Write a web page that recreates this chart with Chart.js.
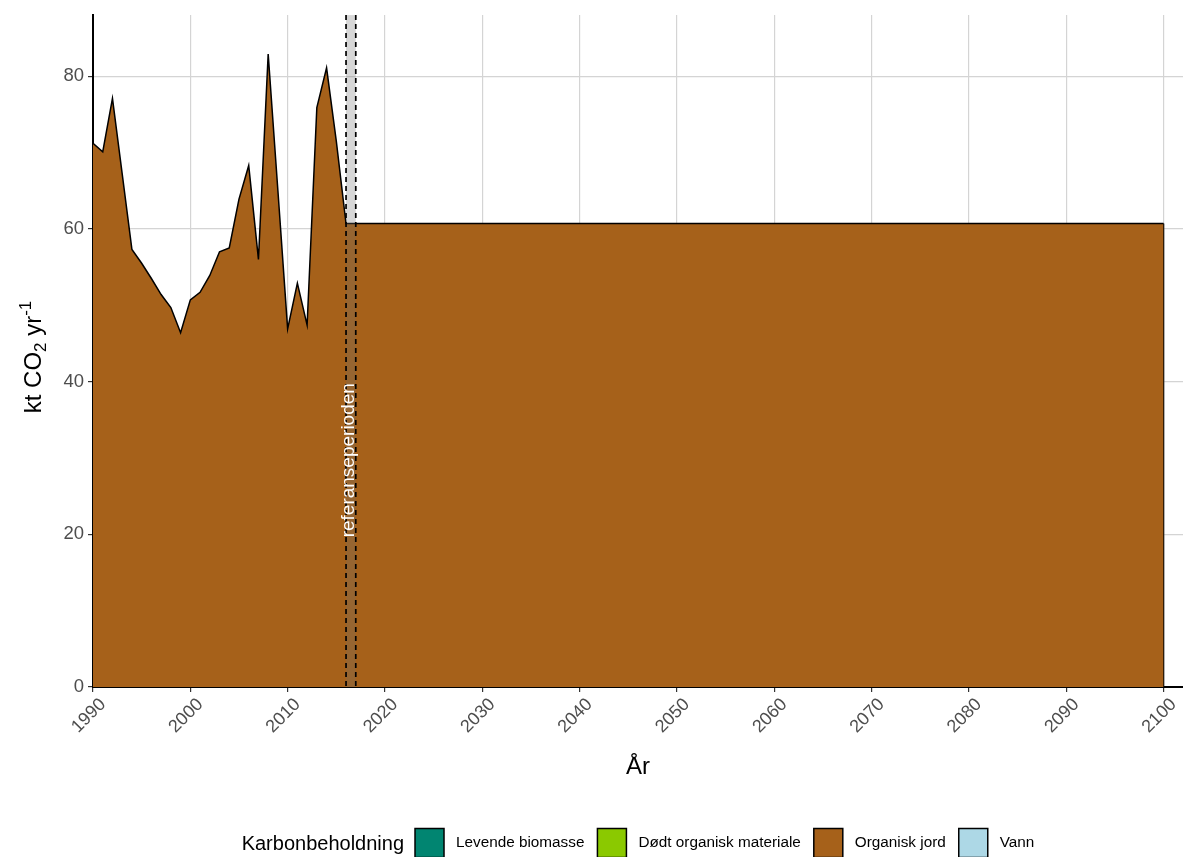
<!DOCTYPE html>
<html>
<head>
<meta charset="utf-8">
<script src="https://cdn.jsdelivr.net/npm/chart.js@4.4.1/dist/chart.umd.min.js"></script>
<style>
  body { margin: 0; background: #fff; }
  #wrap { width: 1183px; height: 857px; }
</style>
</head>
<body>
<div id="wrap"><canvas id="chart" width="1183" height="857"></canvas></div>
<script>
// historiske år og utslipp fra organisk jord (kt CO2 per år)
const years = [1990, 1991, 1992, 1993, 1994, 1995, 1996, 1997, 1998, 1999,
               2000, 2001, 2002, 2003, 2004, 2005, 2006, 2007, 2008, 2009,
               2010, 2011, 2012, 2013, 2014, 2015, 2016];
const organiskJord = [71.2, 70.1, 77.1, 67.2, 57.3, 55.5, 53.5, 51.4, 49.7, 46.4,
                      50.7, 51.7, 53.9, 57.0, 57.5, 63.9, 68.3, 56.0, 82.9, 65.0,
                      46.9, 52.9, 47.4, 75.9, 81.1, 71.5, 60.7];
// framskriving (konstant nivå)
const projYears = [2017, 2100];
const projValues = [60.7, 60.7];

const xTicks = [1990, 2000, 2010, 2020, 2030, 2040, 2050, 2060, 2070, 2080, 2090, 2100];
const yTicks = [0, 20, 40, 60, 80];

const refStart = 2016;
const refEnd = 2017;
const refLabel = 'referanseperioden';

const legendTitle = 'Karbonbeholdning';
const legendNames = ['Levende biomasse', 'Dødt organisk materiale', 'Organisk jord', 'Vann'];
const legendColors = ['#018571', '#8BC900', '#A6611A', '#ADD8E6'];

const allYears = years.concat(projYears);
const allValues = organiskJord.concat(projValues);
const lastYear = allYears[allYears.length - 1];
const lastValue = allValues[allValues.length - 1];

const FONT = '"Liberation Sans", Arial, sans-serif';

const refPlugin = {
    id: 'referanse',
    afterDatasetsDraw(chart) {
        const { ctx, chartArea, scales } = chart;
        const x1 = scales.x.getPixelForValue(refStart);
        const x2 = scales.x.getPixelForValue(refEnd);
        ctx.save();
        ctx.fillStyle = 'rgba(110,110,110,0.28)';
        ctx.fillRect(x1, chartArea.top, x2 - x1, chartArea.bottom - chartArea.top);
        ctx.strokeStyle = '#000';
        ctx.lineWidth = 1.7;
        ctx.setLineDash([5, 4]);
        [x1, x2].forEach(x => {
            ctx.beginPath();
            ctx.moveTo(x, chartArea.top);
            ctx.lineTo(x, chartArea.bottom);
            ctx.stroke();
        });
        ctx.setLineDash([]);
        // tekst for referanseperioden
        const tx = scales.x.getPixelForValue(refStart + 0.25);
        const ty = scales.y.getPixelForValue(29.7);
        ctx.translate(tx, ty);
        ctx.rotate(-Math.PI / 2);
        ctx.fillStyle = '#fff';
        ctx.font = '19px ' + FONT;
        ctx.textAlign = 'center';
        ctx.textBaseline = 'middle';
        ctx.fillText(refLabel, 0, 0);
        ctx.restore();
    }
};

// y-aksetittel med senket 2 og hevet -1
const yTitlePlugin = {
    id: 'yTittel',
    afterDraw(chart) {
        const { ctx } = chart;
        const parts = [
            { t: 'kt CO', size: 24, dy: 0 },
            { t: '2', size: 17, dy: 5 },
            { t: ' yr', size: 24, dy: 0 },
            { t: '-1', size: 17, dy: -10 }
        ];
        ctx.save();
        let total = 0;
        parts.forEach(p => { ctx.font = p.size + 'px ' + FONT; p.w = ctx.measureText(p.t).width; total += p.w; });
        ctx.translate(41, 357);
        ctx.rotate(-Math.PI / 2);
        ctx.fillStyle = '#000';
        ctx.textBaseline = 'alphabetic';
        ctx.textAlign = 'left';
        let x = -total / 2;
        parts.forEach(p => {
            ctx.font = p.size + 'px ' + FONT;
            ctx.fillText(p.t, x, p.dy);
            x += p.w;
        });
        ctx.restore();
    }
};

const legendPlugin = {
    id: 'bunnLegende',
    afterDraw(chart) {
        const { ctx, chartArea } = chart;
        const box = 29;
        const cy = 843;
        ctx.save();
        ctx.textBaseline = 'middle';
        ctx.font = '20px ' + FONT;
        const titleW = ctx.measureText(legendTitle).width;
        ctx.font = '15.3px ' + FONT;
        const widths = legendNames.map(n => ctx.measureText(n).width);
        let total = titleW + 11;
        widths.forEach((w, i) => { total += box + 12 + w + (i < widths.length - 1 ? 13 : 0); });
        let x = (chartArea.left + chartArea.right) / 2 - total / 2;

        ctx.fillStyle = '#000';
        ctx.font = '20px ' + FONT;
        ctx.fillText(legendTitle, x, cy + 1);
        x += titleW + 11;
        ctx.font = '15.3px ' + FONT;
        legendNames.forEach((name, i) => {
            ctx.fillStyle = legendColors[i];
            ctx.fillRect(x, cy - box / 2, box, box);
            ctx.strokeStyle = '#000';
            ctx.lineWidth = 1.5;
            ctx.strokeRect(x, cy - box / 2, box, box);
            x += box + 12;
            ctx.fillStyle = '#000';
            ctx.fillText(name, x, cy);
            x += widths[i] + 13;
        });
        ctx.restore();
    }
};

const ctx = document.getElementById('chart').getContext('2d');
new Chart(ctx, {
    type: 'line',
    data: {
        datasets: [{
            label: 'Organisk jord',
            data: allYears.map((y, i) => ({ x: y, y: allValues[i] })),
            fill: 'origin',
            backgroundColor: '#A6611A',
            borderColor: '#000',
            borderWidth: 1.5,
            pointRadius: 0,
            tension: 0
        }, {
            label: 'kant',
            data: [{ x: lastYear, y: 0 }, { x: lastYear, y: lastValue }],
            fill: false,
            borderColor: '#000',
            borderWidth: 1.5,
            pointRadius: 0
        }]
    },
    options: {
        responsive: false,
        animation: false,
        layout: { padding: { left: 0, top: 14, right: 0, bottom: 75 } },
        plugins: {
            legend: { display: false },
            tooltip: { enabled: false }
        },
        scales: {
            x: {
                type: 'linear',
                min: 1990,
                max: 2102,
                afterBuildTicks: axis => { axis.ticks = xTicks.map(v => ({ value: v })); },
                afterFit: axis => { axis.height = 857 - 75 - 687; },
                grid: { color: '#d4d4d4', lineWidth: 1.2, tickColor: '#333', tickLength: 5 },
                border: { color: '#000', width: 2 },
                ticks: {
                    color: '#4d4d4d',
                    font: { family: FONT, size: 18 },
                    minRotation: 45,
                    maxRotation: 45,
                    autoSkip: false,
                    labelOffset: 10,
                    padding: 2,
                    callback: v => String(v)
                },
                title: {
                    display: true,
                    text: 'År',
                    color: '#000',
                    font: { family: FONT, size: 24 },
                    padding: { top: 0, bottom: 0 }
                }
            },
            y: {
                min: 0,
                max: 88,
                afterBuildTicks: axis => { axis.ticks = yTicks.map(v => ({ value: v })); },
                afterFit: axis => { axis.width = 93; },
                grid: { color: '#d4d4d4', lineWidth: 1.2, tickColor: '#333', tickLength: 5 },
                border: { color: '#000', width: 2 },
                ticks: {
                    color: '#4d4d4d',
                    font: { family: FONT, size: 18.5 },
                    padding: 4,
                    callback: v => String(v)
                },
                title: { display: false }
            }
        }
    },
    plugins: [refPlugin, yTitlePlugin, legendPlugin]
});
</script>
</body>
</html>
